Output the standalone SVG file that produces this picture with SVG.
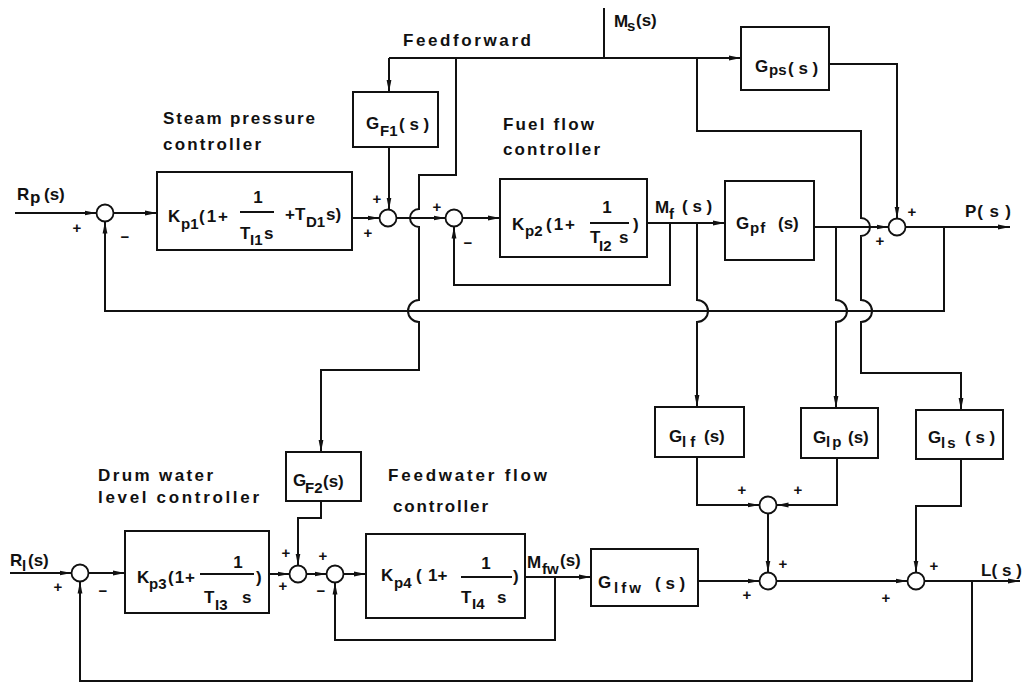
<svg xmlns="http://www.w3.org/2000/svg" width="1024" height="686" viewBox="0 0 1024 686">
<style>
.ln{fill:none;stroke:#111;stroke-width:2}
.bx{fill:#fff;stroke:#111;stroke-width:2}
.sj{fill:#fff;stroke:#111;stroke-width:1.8}
text{font-family:"Liberation Sans",Arial,sans-serif;font-weight:bold;fill:#111}
.h{font-size:17px}
.m{font-size:17px}
.s{font-size:15px}
.sg{font-size:15px;text-anchor:middle}
</style>
<defs>
<marker id="ar" viewBox="0 0 12 6" refX="12" refY="3" markerWidth="12" markerHeight="6" markerUnits="userSpaceOnUse" orient="auto">
<path d="M0,0.6 L12,3 L0,5.4 z" fill="#111"/>
</marker>
</defs>
<rect width="1024" height="686" fill="#fff"/>

<g id="connectors" class="ln">
<!-- top row -->
<path d="M15,213 H96.5" marker-end="url(#ar)"/>
<path d="M113.5,213 H157" marker-end="url(#ar)"/>
<path d="M352,218 H379.5" marker-end="url(#ar)"/>
<path d="M396.5,218 H445.5" marker-end="url(#ar)"/>
<path d="M462.5,218 H500" marker-end="url(#ar)"/>
<path d="M647,223 H725" marker-end="url(#ar)"/>
<path d="M814,227 H888.5" marker-end="url(#ar)"/>
<path d="M905.5,227 H1010" marker-end="url(#ar)"/>
<!-- feedforward -->
<path d="M604,8 V58"/>
<path d="M389,58 V92" marker-end="url(#ar)"/>
<path d="M389,58 H741" marker-end="url(#ar)"/>
<path d="M389,147 V209.5" marker-end="url(#ar)"/>
<path d="M829,64 H897 V218.5" marker-end="url(#ar)"/>
<path d="M456,58 V175 H419 V209 A9,9 0 0 0 419,227 V300 A11,11 0 0 0 419,322 V370 H321 V452" marker-end="url(#ar)"/>
<path d="M697,58 V131 H861 V218 A9,9 0 0 1 861,236 V300 A11,11 0 0 1 861,322 V373 H961 V410" marker-end="url(#ar)"/>
<!-- top feedbacks -->
<path d="M670,223 V285 H454 V226.5" marker-end="url(#ar)"/>
<path d="M944,227 V311 H105 V221.5" marker-end="url(#ar)"/>
<!-- branches down -->
<path d="M697,223 V300 A11,11 0 0 1 697,322 V407" marker-end="url(#ar)"/>
<path d="M836,227 V300 A11,11 0 0 1 836,322 V408" marker-end="url(#ar)"/>
<!-- bottom row -->
<path d="M10,573 H71.5" marker-end="url(#ar)"/>
<path d="M88.5,573 H125" marker-end="url(#ar)"/>
<path d="M269,574 H289.5" marker-end="url(#ar)"/>
<path d="M306.5,574 H326.5" marker-end="url(#ar)"/>
<path d="M343.5,574 H366" marker-end="url(#ar)"/>
<path d="M525,577 H591" marker-end="url(#ar)"/>
<path d="M698,581 H759.5" marker-end="url(#ar)"/>
<path d="M776.5,581 H907.5" marker-end="url(#ar)"/>
<path d="M924.5,581 H1020" marker-end="url(#ar)"/>
<path d="M321,501 V518 H298 V565.5" marker-end="url(#ar)"/>
<path d="M555,577 V640 H335 V582.5" marker-end="url(#ar)"/>
<path d="M972,581 V681 H80 V581.5" marker-end="url(#ar)"/>
<path d="M697,457 V505 H759.5" marker-end="url(#ar)"/>
<path d="M837,458 V505 H776.5" marker-end="url(#ar)"/>
<path d="M768,513.5 V572.5" marker-end="url(#ar)"/>
<path d="M961,459 V506 H916 V572.5" marker-end="url(#ar)"/>
</g>

<!-- summing junctions -->
<g id="sum1"><circle class="sj" cx="105" cy="213" r="8.5"/><text class="sg" x="77" y="233">+</text><text class="sg" x="125" y="242">−</text></g>
<g id="sumF1"><circle class="sj" cx="388" cy="218" r="8.5"/><text class="sg" x="377" y="204">+</text><text class="sg" x="368" y="238">+</text></g>
<g id="sum2"><circle class="sj" cx="454" cy="218" r="8.5"/><text class="sg" x="437" y="212">+</text><text class="sg" x="468" y="248">−</text></g>
<g id="sumP"><circle class="sj" cx="897" cy="227" r="8.5"/><text class="sg" x="912" y="217">+</text><text class="sg" x="880" y="246">+</text></g>
<g id="sum3"><circle class="sj" cx="80" cy="573" r="8.5"/><text class="sg" x="58" y="592">+</text><text class="sg" x="103" y="596">−</text></g>
<g id="sumF2"><circle class="sj" cx="298" cy="574" r="8.5"/><text class="sg" x="286" y="558">+</text><text class="sg" x="283" y="591">+</text></g>
<g id="sum4"><circle class="sj" cx="335" cy="574" r="8.5"/><text class="sg" x="323" y="561">+</text><text class="sg" x="321" y="596">−</text></g>
<g id="sumUp"><circle class="sj" cx="768" cy="505" r="8.5"/><text class="sg" x="742" y="495">+</text><text class="sg" x="798" y="495">+</text></g>
<g id="sumLow"><circle class="sj" cx="768" cy="581" r="8.5"/><text class="sg" x="747" y="600">+</text><text class="sg" x="783" y="569">+</text></g>
<g id="sumL"><circle class="sj" cx="916" cy="581" r="8.5"/><text class="sg" x="886" y="603">+</text><text class="sg" x="934" y="571">+</text></g>

<!-- blocks -->
<g id="Kp1">
<rect class="bx" x="157" y="172" width="195" height="78"/>
<text class="m" x="168" y="222">K<tspan class="s" x="181" y="229">p1</tspan><tspan x="199" y="222" letter-spacing="2">(1+</tspan></text>
<text class="m" x="258" y="203" text-anchor="middle">1</text>
<line class="ln" x1="240" y1="212" x2="274" y2="212" stroke-width="1.5"/>
<text class="m" x="240" y="239">T<tspan class="s" x="250" y="245">I1</tspan><tspan x="264" y="239">s</tspan></text>
<text class="m" x="285" y="220">+T<tspan class="s" x="306" y="227">D1</tspan><tspan x="326" y="220">s)</tspan></text>
</g>
<g id="GF1">
<rect class="bx" x="353" y="92" width="85" height="55"/>
<text class="m" x="366" y="129">G<tspan class="s" x="380" y="136">F1</tspan><tspan x="399" y="130">( s )</tspan></text>
</g>
<g id="Kp2">
<rect class="bx" x="500" y="179" width="147" height="78"/>
<text class="m" x="512" y="230">K<tspan class="s" x="525" y="236">p2</tspan><tspan x="546" y="230" letter-spacing="2">(1+</tspan></text>
<text class="m" x="607" y="213" text-anchor="middle">1</text>
<line class="ln" x1="590" y1="223" x2="629" y2="223" stroke-width="1.5"/>
<text class="m" x="590" y="243">T<tspan class="s" x="599" y="251">I2</tspan><tspan x="619" y="243">s</tspan></text>
<text class="m" x="633" y="230">)</text>
</g>
<g id="Gps">
<rect class="bx" x="741" y="27" width="88" height="63"/>
<text class="m" x="755" y="72">G<tspan class="s" x="769" y="75">ps</tspan><tspan x="788" y="74">( s )</tspan></text>
</g>
<g id="Gpf">
<rect class="bx" x="725" y="181" width="89" height="79"/>
<text class="m" x="736" y="229">G<tspan class="s" x="750" y="233" letter-spacing="1">pf</tspan><tspan x="778" y="229">(s)</tspan></text>
</g>
<g id="Glf">
<rect class="bx" x="655" y="407" width="89" height="50"/>
<text class="m" x="669" y="442">G<tspan class="s" x="682" y="447">l f</tspan><tspan x="704" y="442">(s)</tspan></text>
</g>
<g id="Glp">
<rect class="bx" x="801" y="408" width="77" height="50"/>
<text class="m" x="813" y="443">G<tspan class="s" x="826" y="447" letter-spacing="2">lp</tspan><tspan x="848" y="443">(s)</tspan></text>
</g>
<g id="Gls">
<rect class="bx" x="916" y="410" width="87" height="49"/>
<text class="m" x="928" y="443">G<tspan class="s" x="941" y="448" letter-spacing="2">ls</tspan><tspan x="965" y="443">( s )</tspan></text>
</g>
<g id="Kp3">
<rect class="bx" x="125" y="531" width="144" height="82"/>
<text class="m" x="137" y="583">K<tspan class="s" x="149" y="589">p3</tspan><tspan x="168" y="583" letter-spacing="1">(1+</tspan></text>
<text class="m" x="238" y="568" text-anchor="middle">1</text>
<line class="ln" x1="200" y1="574" x2="254" y2="574" stroke-width="1.5"/>
<text class="m" x="204" y="603">T<tspan class="s" x="215" y="610">I3</tspan><tspan x="242" y="603">s</tspan></text>
<text class="m" x="256" y="583">)</text>
</g>
<g id="GF2">
<rect class="bx" x="286" y="452" width="75" height="49"/>
<text class="m" x="293" y="486">G<tspan class="s" x="305" y="493">F2</tspan><tspan x="323" y="487">(s)</tspan></text>
</g>
<g id="Kp4">
<rect class="bx" x="366" y="534" width="159" height="84"/>
<text class="m" x="381" y="581">K<tspan class="s" x="394" y="588">p4</tspan><tspan x="416" y="581">(</tspan><tspan x="428" y="581">1+</tspan></text>
<text class="m" x="486" y="569" text-anchor="middle">1</text>
<line class="ln" x1="461" y1="577" x2="512" y2="577" stroke-width="1.5"/>
<text class="m" x="461" y="603">T<tspan class="s" x="472" y="609">I4</tspan><tspan x="497" y="603">s</tspan></text>
<text class="m" x="513" y="582">)</text>
</g>
<g id="Glfw">
<rect class="bx" x="591" y="549" width="107" height="57"/>
<text class="m" x="598" y="588">G<tspan class="s" x="614" y="593" letter-spacing="3">lfw</tspan><tspan x="655" y="589">( s )</tspan></text>
</g>

<!-- signal labels -->
<g id="labels">
<text class="m" x="17" y="200">R<tspan x="30" y="203">p</tspan><tspan x="44" y="200">(s)</tspan></text>
<text class="m" x="10" y="566">R<tspan class="s" x="22" y="571">l</tspan><tspan x="28" y="566">(s)</tspan></text>
<text class="m" x="614" y="27">M<tspan class="s" x="627" y="31">s</tspan><tspan x="636" y="26">(s)</tspan></text>
<text class="m" x="655" y="213">M<tspan class="s" x="669" y="219">f</tspan><tspan x="682" y="212">( s )</tspan></text>
<text class="m" x="527" y="568">M<tspan class="s" x="542" y="574">fw</tspan><tspan x="560" y="566">(s)</tspan></text>
<text class="m" x="965" y="217" textLength="46">P( s )</text>
<text class="m" x="981" y="576" textLength="41">L( s )</text>
</g>

<g id="captions">
<text class="h" x="163" y="124" textLength="152">Steam pressure</text>
<text class="h" x="163" y="150" textLength="98">controller</text>
<text class="h" x="503" y="130" textLength="91">Fuel flow</text>
<text class="h" x="503" y="155" textLength="97">controller</text>
<text class="h" x="403" y="46" textLength="128">Feedforward</text>
<text class="h" x="98" y="481" textLength="115">Drum water</text>
<text class="h" x="98" y="503" textLength="161">level  controller</text>
<text class="h" x="388" y="481" textLength="159">Feedwater flow</text>
<text class="h" x="393" y="512" textLength="95">controller</text>
</g>
</svg>
